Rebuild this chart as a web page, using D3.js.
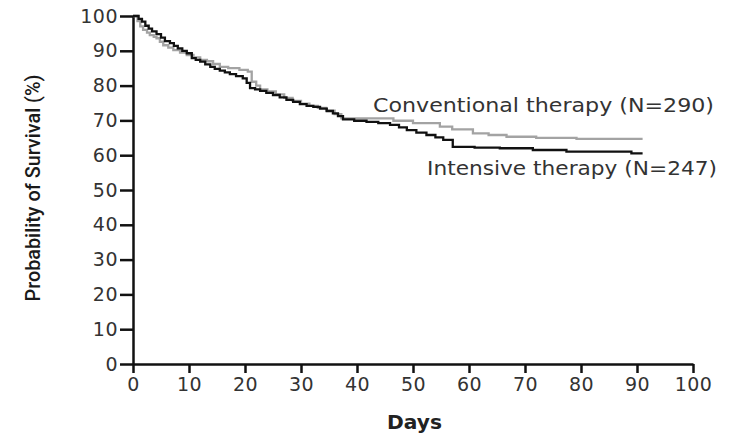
<!DOCTYPE html>
<html>
<head>
<meta charset="utf-8">
<script src="https://cdn.jsdelivr.net/npm/d3@7"></script>
<style>
  body { margin: 0; background: #fff; }
  .axis path, .axis line { stroke: #111; stroke-width: 2.5; }
  .axis text { font-family: "DejaVu Sans", sans-serif; font-size: 19px; fill: #333; letter-spacing: 0.5px; }
</style>
</head>
<body>
<div id="chart"></div>
<script>
/* CONSTANTS AND GLOBALS */
const width = 729,
  height = 433;

// tick values
const xTicks = [0, 10, 20, 30, 40, 50, 60, 70, 80, 90, 100];
const yTicks = [0, 10, 20, 30, 40, 50, 60, 70, 80, 90, 100];

// Kaplan-Meier steps: [day, % surviving]
const intensiveDays = [0, 1, 1.6, 2.2, 2.8, 3.4, 4.2, 5, 5.7, 6.6, 7.3, 8, 8.8, 9.6, 10.5, 11.2, 12, 12.9, 13.8, 14.6, 15.5, 16.4, 17.3, 18.4, 19.6, 20.3, 20.9, 21.8, 22.7, 23.8, 25, 26.2, 27.4, 28.6, 29.8, 31, 32.2, 33.4, 34.6, 35.7, 36.6, 37.5, 39.5, 41.7, 43.8, 45.9, 47.5, 48.9, 50.6, 52.4, 54, 55.4, 57.1, 61, 65.5, 71.4, 77.4, 89, 91];
const intensiveSurv = [100, 99.2, 98.4, 97.2, 96.4, 95.6, 94.8, 93.8, 92.8, 92.2, 91.4, 90.7, 90.0, 89.3, 87.9, 87.4, 86.9, 86.1, 85.4, 84.8, 84.3, 83.8, 83.3, 82.7, 82.1, 80.8, 79.3, 78.9, 78.5, 77.9, 77.3, 76.6, 75.9, 75.3, 74.7, 74.2, 73.9, 73.4, 72.7, 72.0, 71.2, 70.3, 69.9, 69.6, 69.2, 68.7, 68.0, 67.2, 66.5, 65.8, 65.1, 64.4, 62.4, 62.2, 62.0, 61.5, 61.0, 60.5, 60.5];

const conventionalDays = [0, 0.8, 1.3, 1.8, 2.5, 3, 3.7, 4.2, 4.8, 5.4, 6.3, 7.2, 8.4, 9.6, 10.8, 12, 13.2, 14.3, 15.5, 17, 19, 20.5, 21.2, 22, 22.7, 24, 25.5, 27, 28.5, 30, 31.5, 33, 34.5, 36, 37.2, 46.5, 50, 54.8, 57, 60.7, 63.5, 66.7, 72, 79.2, 91];
const conventionalSurv = [100, 98.5, 97, 96, 95.2, 94.5, 94, 93.6, 92.6, 91.6, 90.9, 90.2, 89.5, 88.8, 88.1, 87.4, 87.0, 86.2, 85.4, 85, 84.5, 84, 81.1, 80, 78.9, 78.3, 77.5, 76.5, 75.6, 74.8, 74.2, 73.6, 72.8, 71.8, 70.6, 69.9, 69.2, 68.2, 67.4, 66.3, 65.8, 65.3, 65.0, 64.7, 64.7];

const seriesNames = ["Conventional therapy (N=290)", "Intensive therapy (N=247)"];

let svg, xScale, yScale;

init();

function init() {
  //SCALES
  xScale = d3.scaleLinear().domain([0, 100]).range([133, 693]);
  yScale = d3.scaleLinear().domain([0, 100]).range([364, 16]);

  svg = d3.select("#chart")
    .append("svg")
    .attr("width", width)
    .attr("height", height);

  //AXES
  const xAxis = d3.axisBottom(xScale)
    .tickValues(xTicks)
    .tickSize(9)
    .tickSizeOuter(0)
    .tickPadding(5);

  const yAxis = d3.axisLeft(yScale)
    .tickValues(yTicks)
    .tickSize(13)
    .tickSizeOuter(0)
    .tickPadding(2);

  svg.append("g")
    .attr("class", "axis")
    .attr("transform", `translate(0, ${yScale(0)})`)
    .call(xAxis);

  svg.append("g")
    .attr("class", "axis")
    .attr("transform", `translate(${xScale(0)}, 0)`)
    .call(yAxis);

  // axis titles
  svg.append("text")
    .attr("x", 414.5)
    .attr("y", 429)
    .attr("text-anchor", "middle")
    .attr("font-family", "DejaVu Sans, sans-serif")
    .attr("font-weight", "bold")
    .attr("font-size", 19)
    .attr("fill", "#222")
    .attr("textLength", 55)
    .attr("lengthAdjust", "spacingAndGlyphs")
    .text("Days");

  svg.append("text")
    .attr("transform", `translate(40, 188) rotate(-90)`)
    .attr("text-anchor", "middle")
    .attr("font-family", "Roboto, DejaVu Sans, sans-serif")
    .attr("font-weight", 500)
    .attr("font-size", 21)
    .attr("fill", "#1a1a1a")
    .attr("textLength", 227)
    .attr("lengthAdjust", "spacingAndGlyphs")
    .text("Probability of Survival (%)");

  draw();
}

function draw() {
  const line = d3.line()
    .x(d => xScale(d[0]))
    .y(d => yScale(d[1]))
    .curve(d3.curveStepAfter);

  const conventional = d3.zip(conventionalDays, conventionalSurv);
  const intensive = d3.zip(intensiveDays, intensiveSurv);

  svg.append("path")
    .datum(conventional)
    .attr("fill", "none")
    .attr("stroke", "#a3a3a3")
    .attr("stroke-width", 2.3)
    .attr("d", line);

  svg.append("path")
    .datum(intensive)
    .attr("fill", "none")
    .attr("stroke", "#111")
    .attr("stroke-width", 2.3)
    .attr("d", line);

  // labels next to curves
  svg.append("text")
    .attr("x", 373)
    .attr("y", 112)
    .attr("font-family", "DejaVu Sans, sans-serif")
    .attr("font-size", 20)
    .attr("fill", "#333")
    .attr("textLength", 341)
    .attr("lengthAdjust", "spacingAndGlyphs")
    .text(seriesNames[0]);

  svg.append("text")
    .attr("x", 427)
    .attr("y", 175)
    .attr("font-family", "DejaVu Sans, sans-serif")
    .attr("font-size", 19)
    .attr("fill", "#333")
    .attr("textLength", 290)
    .attr("lengthAdjust", "spacingAndGlyphs")
    .text(seriesNames[1]);
}
</script>
</body>
</html>
